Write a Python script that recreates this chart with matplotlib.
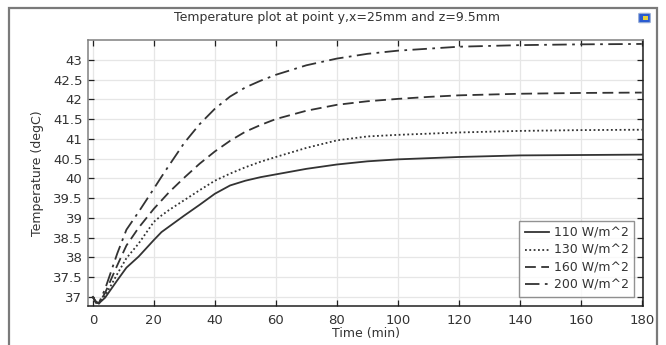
import matplotlib
matplotlib.use("Agg")
import matplotlib.pyplot as plt
from matplotlib.patches import Rectangle, FancyBboxPatch

# ---- data ----
time_min = [0, 1, 2, 4, 6, 8, 11, 15, 20, 22.5, 25, 30, 35, 40, 45, 50, 55, 60, 70, 80, 90, 100, 110, 120, 140, 160, 180]
temp_110 = [37.0, 36.88, 36.84, 36.98, 37.2, 37.42, 37.74, 38.02, 38.44, 38.64, 38.78, 39.06, 39.33, 39.61, 39.82, 39.94, 40.03, 40.1, 40.24, 40.35, 40.43, 40.48, 40.51, 40.54, 40.58, 40.59, 40.6]
temp_130 = [37.0, 36.87, 36.83, 37.03, 37.3, 37.58, 37.98, 38.35, 38.9, 39.06, 39.2, 39.45, 39.7, 39.94, 40.12, 40.28, 40.42, 40.54, 40.77, 40.96, 41.06, 41.1, 41.13, 41.16, 41.2, 41.22, 41.23]
temp_160 = [37.0, 36.86, 36.84, 37.1, 37.45, 37.8, 38.3, 38.75, 39.23, 39.44, 39.65, 40.02, 40.37, 40.68, 40.95, 41.18, 41.35, 41.5, 41.71, 41.86, 41.95, 42.01, 42.06, 42.1, 42.14, 42.16, 42.17]
temp_200 = [37.0, 36.85, 36.85, 37.2, 37.65, 38.1, 38.7, 39.15, 39.74, 40.04, 40.33, 40.9, 41.37, 41.76, 42.07, 42.3, 42.47, 42.62, 42.86, 43.03, 43.15, 43.23, 43.28, 43.33, 43.37, 43.39, 43.4]
series_labels = ["110 W/m^2", "130 W/m^2", "160 W/m^2", "200 W/m^2"]
x_ticks = [0, 20, 40, 60, 80, 100, 120, 140, 160, 180]
y_ticks = [37, 37.5, 38, 38.5, 39, 39.5, 40, 40.5, 41, 41.5, 42, 42.5, 43]
y_tick_labels = ["37", "37.5", "38", "38.5", "39", "39.5", "40", "40.5", "41", "41.5", "42", "42.5", "43"]
title = "Temperature plot at point y,x=25mm and z=9.5mm"

W, H = 666, 345
fig = plt.figure(figsize=(W / 100, H / 100), dpi=100)
fig.patch.set_facecolor("white")

# axes placement in pixels
L, R, T, B = 88, 643, 40, 306
ax = fig.add_axes([L / W, 1 - B / H, (R - L) / W, (B - T) / H])

lc = "#333333"
styles = ["-", (0, (1, 1.4)), (0, (6, 3)), (0, (8, 3, 1.5, 3))]
for vals, lab, ls in zip([temp_110, temp_130, temp_160, temp_200], series_labels, styles):
    ax.plot(time_min, vals, color=lc, lw=1.3, linestyle=ls, label=lab)

ax.set_xlim(-1.6, 180.4)
ax.set_ylim(36.77, 43.5)
ax.set_xticks(x_ticks)
ax.set_yticks(y_ticks)
ax.set_yticklabels(y_tick_labels)
ax.grid(True, color="#e6e6e6", lw=0.9)
ax.set_axisbelow(True)
ax.tick_params(direction="in", length=4, width=0.9, colors="#222222", labelcolor="#333333",
               labelsize=9.5, top=True, right=True, pad=4)
ax.tick_params(axis="x", pad=6)
ax.spines["left"].set_color("#808080")
ax.spines["top"].set_color("#808080")
ax.spines["bottom"].set_color("#202020")
ax.spines["right"].set_color("#202020")
for s in ax.spines.values():
    s.set_linewidth(1.1)

ax.set_xlabel("Time (min)", fontsize=9, color="#333333", labelpad=0)
ax.set_ylabel("Temperature (degC)", fontsize=9, color="#333333", labelpad=6)

leg = ax.legend(loc="lower right", fontsize=9, frameon=True, fancybox=False,
                handlelength=1.9, handletextpad=0.4, borderpad=0.45, labelspacing=0.35,
                borderaxespad=0.7, edgecolor="#777777", shadow=False)
leg.get_frame().set_linewidth(1.0)
for t in leg.get_texts():
    t.set_color("#333333")

# title
fig.text(337 / W, 1 - 17 / H, title, ha="center", va="center", fontsize=9, color="#333333")

# outer frame of the plot window
fig.add_artist(Rectangle((9 / W, -0.05), (657 - 9) / W, 1.05 - 8 / H,
                         transform=fig.transFigure, fill=False, edgecolor="#7a7a7a", lw=1.6))

# small icon at top right
fig.add_artist(FancyBboxPatch((640 / W, 1 - 22 / H), 9 / W, 8 / H,
                              boxstyle="round,pad=0.002", transform=fig.transFigure,
                              facecolor="#2a5bd0", edgecolor="#9ab0d8", lw=0.8))
fig.add_artist(Rectangle((643 / W, 1 - 20 / H), 5 / W, 4 / H, transform=fig.transFigure,
                         facecolor="#e8d23a", edgecolor="none"))

fig.savefig("out.png", dpi=100, facecolor="white")
